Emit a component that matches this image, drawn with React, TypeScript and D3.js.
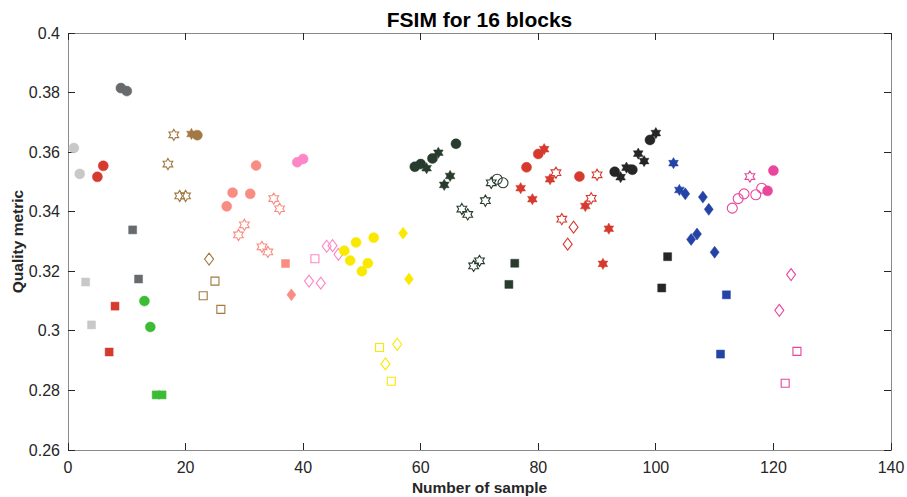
import React from "react";
import * as d3 from "d3";

// one colour per block of samples, in sample order
const blockColors = [
  "#c8c8c8", "#d63a2e", "#686b6e", "#3cbc34", "#a27843", "#f98d83", "#fd86c6",
  "#f9e900", "#283c2d", "#d63a2e", "#262626", "#2443a6", "#e9469c",
];

// marker codes per block: lowercase = filled, uppercase = open
// o circle, s square, d diamond, h hexagram
const blockMarkers = [
  "ooss", "ooss", "ooss", "ooss",
  "HHHHhoSDSS",
  "ooHHooHHHHsd",
  "ooDSDDDD",
  "ooooooSDSDdd",
  "oohohhhoHHHHHHOOss",
  "hohohhHHDDohHHhh",
  "ohhohhohss",
  "hhddddddss",
  "OOOHOOooDSDS",
];

// FSIM value of each sample, 1..124
const fsim = [
  0.3614, 0.3527, 0.3164, 0.302, 0.3517, 0.3554, 0.2929, 0.3083, 0.3815, 0.3805,
  0.3339, 0.3174, 0.31, 0.3013, 0.2785, 0.2785, 0.356, 0.3658, 0.3453, 0.3453,
  0.3661, 0.3657, 0.3118, 0.3241, 0.3167, 0.3072, 0.3418, 0.3464, 0.3322, 0.3356,
  0.346, 0.3555, 0.3282, 0.3265, 0.3444, 0.341, 0.3226, 0.3121, 0.3566, 0.3577,
  0.3167, 0.3242, 0.316, 0.3284, 0.3286, 0.3257, 0.3269, 0.3236, 0.3297, 0.32,
  0.3227, 0.3313, 0.2944, 0.2889, 0.2831, 0.2955, 0.3328, 0.3174, 0.3551, 0.356,
  0.3546, 0.3579, 0.3598, 0.349, 0.352, 0.3628, 0.3409, 0.3391, 0.3218, 0.3235,
  0.3437, 0.3497, 0.3509, 0.3497, 0.3156, 0.3227, 0.3479, 0.3549, 0.3442, 0.3594,
  0.361, 0.3509, 0.3531, 0.3375, 0.3291, 0.3348, 0.3518, 0.3419, 0.3445, 0.3524,
  0.3225, 0.3343, 0.3534, 0.3516, 0.3548, 0.3541, 0.3595, 0.357, 0.3641, 0.3664,
  0.3144, 0.3249, 0.3563, 0.3473, 0.346, 0.3307, 0.3325, 0.3449, 0.3408, 0.3264,
  0.2922, 0.3121, 0.3412, 0.3444, 0.346, 0.3518, 0.3457, 0.3479, 0.347, 0.3538,
  0.3069, 0.2824, 0.3189, 0.2931,
];

const xTicks = [0, 20, 40, 60, 80, 100, 120, 140];
const yTicks = [0.26, 0.28, 0.3, 0.32, 0.34, 0.36, 0.38, 0.4];

const width = 907;
const height = 497;
const margin = { top: 33, right: 16, bottom: 47, left: 68 };

function markerPath(code: string): string {
  const c = code.toLowerCase();
  if (c === "o") {
    const r = 5;
    return `M${r},0A${r},${r},0,1,1,${-r},0A${r},${r},0,1,1,${r},0Z`;
  }
  if (c === "s") {
    const h = 4;
    return `M${-h},${-h}H${h}V${h}H${-h}Z`;
  }
  if (c === "d") {
    return "M0,-6L4.5,0L0,6L-4.5,0Z";
  }
  // six-pointed star
  const R = 5.6;
  const r = R / Math.sqrt(3);
  const pts: string[] = [];
  for (let i = 0; i < 12; i++) {
    const a = -Math.PI / 2 + (i * Math.PI) / 6;
    const rr = i % 2 === 0 ? R : r;
    pts.push(`${(rr * Math.cos(a)).toFixed(2)},${(rr * Math.sin(a)).toFixed(2)}`);
  }
  return "M" + pts.join("L") + "Z";
}

export default function App() {
  const innerW = width - margin.left - margin.right;
  const innerH = height - margin.top - margin.bottom;

  const x = d3.scaleLinear().domain([0, 140]).range([0, innerW]);
  const y = d3.scaleLinear().domain([0.26, 0.4]).range([innerH, 0]);

  // flatten blocks into points
  const points: { sample: number; value: number; code: string; color: string }[] = [];
  let n = 0;
  blockMarkers.forEach((codes, b) => {
    codes.split("").forEach((code) => {
      points.push({ sample: n + 1, value: fsim[n], code, color: blockColors[b] });
      n++;
    });
  });

  const tickLen = 7;
  const axisColor = "#262626";
  const font = "'Liberation Sans', Arial, Helvetica, sans-serif";

  return (
    <svg
      width={width}
      height={height}
      style={{ position: "absolute", left: 0, top: 0, background: "#fff" }}
      fontFamily={font}
    >
      <rect width={width} height={height} fill="#fff" />
      <text
        x={margin.left + innerW / 2}
        y={27}
        textAnchor="middle"
        fontSize={21}
        fontWeight="bold"
        fill="#000"
      >
        FSIM for 16 blocks
      </text>
      <g transform={`translate(${margin.left},${margin.top})`}>
        {/* box */}
        <rect
          x={0}
          y={0}
          width={innerW}
          height={innerH}
          fill="none"
          stroke="#8a8a8a"
          strokeWidth={1}
          shapeRendering="crispEdges"
        />
        {xTicks.map((t) => (
          <g key={"x" + t} transform={`translate(${x(t)},0)`}>
            <line y1={innerH} y2={innerH - tickLen} stroke={axisColor} shapeRendering="crispEdges" />
            <line y1={0} y2={tickLen} stroke={axisColor} shapeRendering="crispEdges" />
            <text
              y={innerH + 23}
              textAnchor="middle"
              fontSize={16}
              fill={axisColor}
            >
              {d3.format("~g")(t)}
            </text>
          </g>
        ))}
        {yTicks.map((t) => (
          <g key={"y" + t} transform={`translate(0,${y(t)})`}>
            <line x1={0} x2={tickLen} stroke={axisColor} shapeRendering="crispEdges" />
            <line x1={innerW} x2={innerW - tickLen} stroke={axisColor} shapeRendering="crispEdges" />
            <text x={-8} dy="0.35em" textAnchor="end" fontSize={16} fill={axisColor}>
              {d3.format("~g")(+t.toFixed(2))}
            </text>
          </g>
        ))}
        {points.map((p) => {
          const open = p.code !== p.code.toLowerCase();
          return (
            <path
              key={p.sample}
              transform={`translate(${x(p.sample)},${y(p.value)})`}
              d={markerPath(p.code)}
              fill={open ? "none" : p.color}
              stroke={p.color}
              strokeWidth={open ? 1.1 : 0.5}
            />
          );
        })}
      </g>
      <text
        x={margin.left + innerW / 2}
        y={493}
        textAnchor="middle"
        fontSize={15.5}
        fontWeight="bold"
        fill="#262626"
      >
        Number of sample
      </text>
      <text
        transform={`translate(23,${margin.top + innerH / 2}) rotate(-90)`}
        textAnchor="middle"
        fontSize={15.5}
        fontWeight="bold"
        fill="#262626"
      >
        Quality metric
      </text>
    </svg>
  );
}
